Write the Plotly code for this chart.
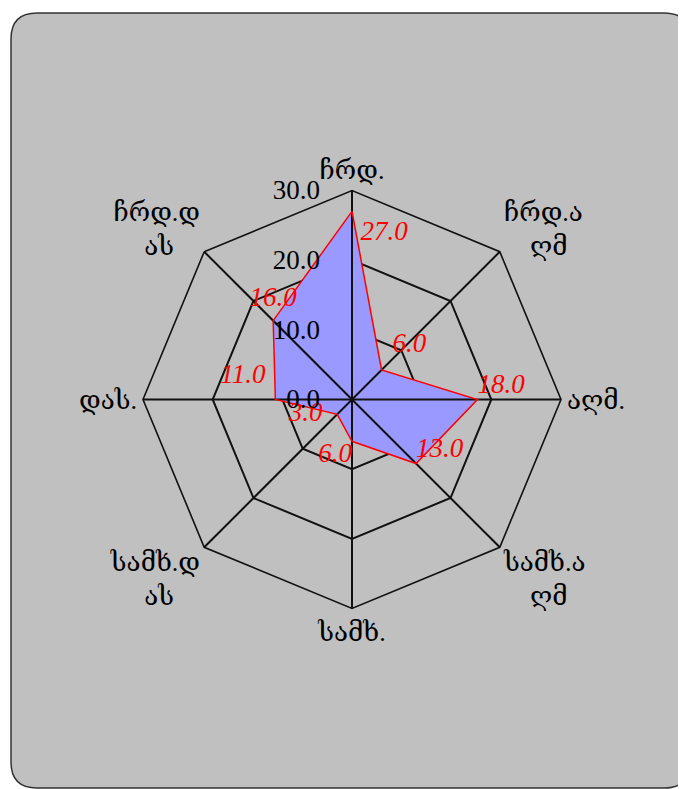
import plotly.graph_objects as go

NB = "\u00a0"
directions = ["ჩრდ.", "ჩრდ.ა<br>" + NB * 4 + "ღმ", "აღმ.", "სამხ.ა<br>" + NB * 4 + "ღმ",
              "სამხ.", "სამხ.დ<br>ას" + NB * 4, "დას.", "ჩრდ.დ<br>ას" + NB * 4]
values = [27, 6, 18, 13, 6, 3, 11, 16]
label_positions = ["bottom right", "top right", "top right", "top right",
                   "bottom left", "middle left", "top left", "top center"]
label_gap = [12, 16, 0, 0, 0, 22, 14, 11]  # invisible marker sizes -> label offsets
radial_ticks = [0, 10, 20, 30]

theta = directions + [directions[0]]
r = values + [values[0]]
texts = [f"{v:.1f}" for v in values] + [""]
tpos = label_positions + [label_positions[0]]
gaps = label_gap + [0]

serif = "Liberation Serif, DejaVu Serif, serif"

fig = go.Figure()
# filled area (bottom subplot: rings below the fill)
fig.add_trace(go.Scatterpolar(
    r=r, theta=theta, subplot="polar",
    mode="lines", fill="toself", fillcolor="#9999ff",
    line=dict(color="rgba(0,0,0,0)", width=0),
    showlegend=False, hoverinfo="skip",
))
# outline + value labels (top subplot: spokes above the fill)
fig.add_trace(go.Scatterpolar(
    r=r, theta=theta, subplot="polar2",
    mode="lines+markers+text",
    line=dict(color="#ff0000", width=1.5),
    marker=dict(size=gaps, opacity=0, color="#ff0000"),
    text=texts,
    textposition=tpos,
    textfont=dict(family=serif, size=27, color="#ff0000", style="italic"),
    showlegend=False,
    cliponaxis=False,
    hoverinfo="skip",
))

W, H = 686, 789
off = 8  # page body margin
cx, cy, R = 352 - off, 399.5 - off, 209

def px(x):
    return x / W

def py(y):
    return 1 - y / H

x0, x1, y0, y1, rad = 11 - off, 690 - off, 13 - off, 788 - off, 26
path = (
    f"M {px(x0+rad)},{py(y0)} L {px(x1-rad)},{py(y0)} "
    f"Q {px(x1)},{py(y0)} {px(x1)},{py(y0+rad)} "
    f"L {px(x1)},{py(y1-rad)} Q {px(x1)},{py(y1)} {px(x1-rad)},{py(y1)} "
    f"L {px(x0+rad)},{py(y1)} Q {px(x0)},{py(y1)} {px(x0)},{py(y1-rad)} "
    f"L {px(x0)},{py(y0+rad)} Q {px(x0)},{py(y0)} {px(x0+rad)},{py(y0)} Z"
)

domain = dict(x=[(cx - R) / W, (cx + R) / W],
              y=[(H - cy - R) / H, (H - cy + R) / H])

ring_polar = dict(
    domain=domain, bgcolor="rgba(0,0,0,0)", gridshape="linear",
    angularaxis=dict(rotation=90, direction="clockwise", showline=False,
                     showgrid=False, showticklabels=False, ticks=""),
    radialaxis=dict(range=[0, 30], tickmode="array", tickvals=radial_ticks,
                    showline=False, showgrid=True, gridcolor="#111111",
                    gridwidth=1.6, showticklabels=False, ticks=""),
)

spoke_polar = dict(
    domain=domain,
    bgcolor="rgba(0,0,0,0)",
    gridshape="linear",
    angularaxis=dict(
        rotation=90, direction="clockwise",
        showline=True, linecolor="#111111", linewidth=1.6,
        showgrid=True, gridcolor="#111111", gridwidth=1.6,
        ticks="",
        tickfont=dict(family=serif, size=26, color="#000000"),
    ),
    radialaxis=dict(
        range=[0, 30], tickmode="array", tickvals=radial_ticks,
        tickformat=".1f", angle=90, side="counterclockwise",
        tickangle=90,
        showline=False, showgrid=False,
        ticks="outside", ticklen=22, tickcolor="rgba(0,0,0,0)",
        layer="above traces",
        tickfont=dict(family=serif, size=27, color="#000000"),
    ),
)

fig.update_layout(
    width=W, height=H,
    margin=dict(l=0, r=0, t=0, b=0),
    paper_bgcolor="white",
    plot_bgcolor="rgba(0,0,0,0)",
    shapes=[dict(type="path", path=path, xref="paper", yref="paper",
                 fillcolor="#c0c0c0", line=dict(color="#333333", width=1.5),
                 layer="below")],
    polar=ring_polar,
    polar2=spoke_polar,
)

fig.write_html("out.html")
